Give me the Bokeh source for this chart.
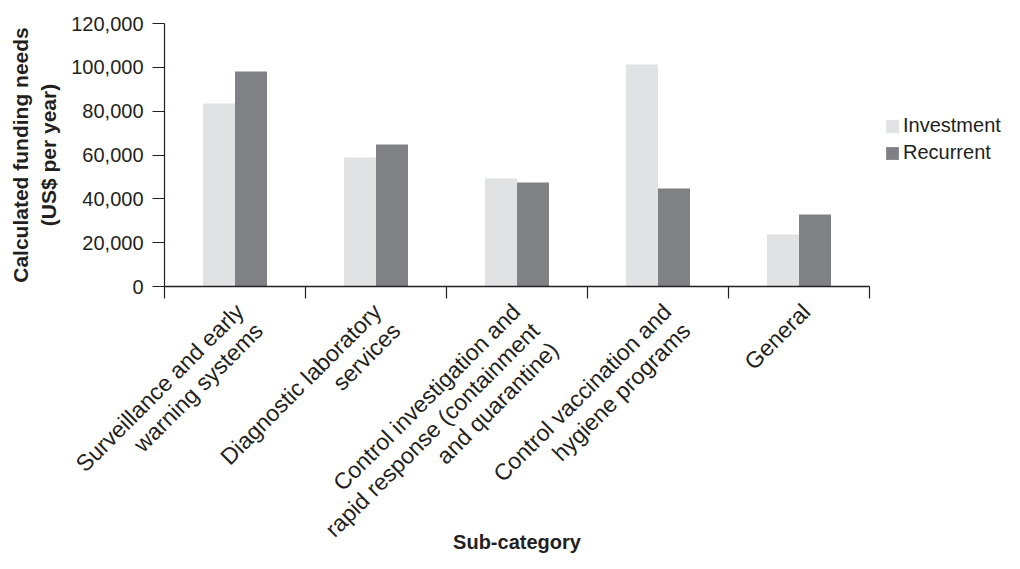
import math
from bokeh.plotting import figure
from bokeh.models import (ColumnDataSource, Range1d, FixedTicker, NumeralTickFormatter,
                          Legend, LegendItem, LinearAxis, LabelSet, Label)
from bokeh.core.properties import value
from bokeh.embed import file_html
from bokeh.resources import INLINE

# ---- data ----
categories = [
    "Surveillance and early\nwarning systems",
    "Diagnostic laboratory\nservices",
    "Control investigation and\nrapid response (containment\nand quarantine)",
    "Control vaccination and\nhygiene programs",
    "General",
]
investment = [83500, 58900, 49300, 101300, 23700]
recurrent = [98100, 64800, 47400, 44700, 32800]
y_ticks = [0, 20000, 40000, 60000, 80000, 100000, 120000]
series_names = ["Investment", "Recurrent"]
y_title = "Calculated funding needs\n(US$ per year)"
x_title = "Sub-category"
y_max = 120000

# ---- styling / layout (pixels) ----
TXT = "#231f20"
FONT = "Liberation Sans"
C_INV = "#e1e2e3"
C_REC = "#808184"
W, H = 1004, 553
PLOT_L, PLOT_T = 164, 23          # pixel column of y axis, pixel row of y_max
AXIS_Y, AXIS_R = 286, 869         # pixel row of y=0, pixel column of right axis end
YTITLE_X = 34                     # pixel column of y-title centre
bar_w = 0.227
label_nudge = [-4.5, -8, -10, 0, -2]  # px, per-label horizontal nudge
label_drop = 12                   # px below axis line
line_step = 27                    # px between label lines

n = len(categories)
centers = [i + 0.5 for i in range(n)]
src = ColumnDataSource(dict(
    x_inv=[c - bar_w / 2 for c in centers],
    x_rec=[c + bar_w / 2 for c in centers],
    inv=investment,
    rec=recurrent,
))

# ranges extend past the axes so that labels/legend lie inside the frame
x_per_px = n / (AXIS_R - PLOT_L)
y_per_px = y_max / (AXIS_Y - PLOT_T)
x_range = Range1d(-PLOT_L * x_per_px, (W - PLOT_L) * x_per_px)
y_range = Range1d(-(H - AXIS_Y) * y_per_px, y_max + PLOT_T * y_per_px)

p = figure(width=W, height=H, output_backend="svg", toolbar_location=None,
           x_range=x_range, y_range=y_range, x_axis_type=None, y_axis_type=None,
           min_border=0)
p.outline_line_color = None
p.background_fill_color = "white"
p.border_fill_color = "white"

r1 = p.vbar(x="x_inv", top="inv", width=bar_w, source=src, fill_color=C_INV, line_color=None)
r2 = p.vbar(x="x_rec", top="rec", width=bar_w, source=src, fill_color=C_REC, line_color=None)

# x axis at y=0: category boundary ticks (minor ticks), no tick labels
xaxis = LinearAxis(ticker=FixedTicker(ticks=[], minor_ticks=list(range(n + 1))),
                   fixed_location=0, bounds=(0, n))
xaxis.axis_line_color = TXT
xaxis.axis_line_width = 1.5
xaxis.major_tick_line_color = None
xaxis.major_tick_out = 12
xaxis.major_tick_in = 0
xaxis.minor_tick_line_color = TXT
xaxis.minor_tick_line_width = 1.2
xaxis.minor_tick_out = 12
xaxis.minor_tick_in = 0
xaxis.major_label_text_font_size = "0px"
xaxis.axis_label = x_title
xaxis.axis_label_text_font = FONT
xaxis.axis_label_text_font_size = "20px"
xaxis.axis_label_text_font_style = "bold"
xaxis.axis_label_text_color = TXT
xaxis.axis_label_standoff = 232
p.add_layout(xaxis, "below")

# y axis at x=0
yaxis = LinearAxis(ticker=FixedTicker(ticks=y_ticks), fixed_location=0, bounds=(0, y_max),
                   formatter=NumeralTickFormatter(format="0,0"))
yaxis.axis_line_color = TXT
yaxis.axis_line_width = 1.2
yaxis.major_tick_line_color = TXT
yaxis.major_tick_line_width = 1.2
yaxis.major_tick_out = 12
yaxis.major_tick_in = 0
yaxis.minor_tick_line_color = None
yaxis.major_label_text_font = FONT
yaxis.major_label_text_font_size = "20px"
yaxis.major_label_text_color = TXT
yaxis.major_label_standoff = 9
p.add_layout(yaxis, "left")

# y-axis title centred on the 0..y_max span
p.add_layout(Label(x=(YTITLE_X - PLOT_L) * x_per_px, y=y_max / 2, text=y_title,
                   angle=math.pi / 2, text_align="center", text_baseline="middle",
                   text_font=FONT, text_font_size="21px", text_font_style="bold",
                   text_color=TXT))

# rotated, right-aligned multi-line category labels (one entry per line)
lx, ly, lt, lxo, lyo = [], [], [], [], []
d = line_step * math.cos(math.pi / 4)
for c, cat, nud in zip(centers, categories, label_nudge):
    for j, line in enumerate(cat.split("\n")):
        lx.append(c)
        ly.append(0)
        lt.append(line)
        lxo.append(nud + j * d)
        lyo.append(-(label_drop + j * d))
lab_src = ColumnDataSource(dict(x=lx, y=ly, text=lt, xo=lxo, yo=lyo))
labels = LabelSet(x="x", y="y", text="text", x_offset="xo", y_offset="yo", source=lab_src,
                  angle=math.pi / 4, text_align="right", text_baseline="top",
                  text_font=value(FONT), text_font_size="23px", text_color=TXT)
p.add_layout(labels)

legend = Legend(
    items=[LegendItem(label=series_names[0], renderers=[r1]),
           LegendItem(label=series_names[1], renderers=[r2])],
    location=(884, H - 164),
    glyph_width=16, glyph_height=16, label_height=22,
    label_text_font=FONT, label_text_font_size="20px", label_text_color=TXT,
    label_standoff=3, spacing=4, padding=0, margin=0,
    border_line_color=None, background_fill_alpha=0,
)
p.add_layout(legend)

open("out.html", "w").write(file_html(p, INLINE))
